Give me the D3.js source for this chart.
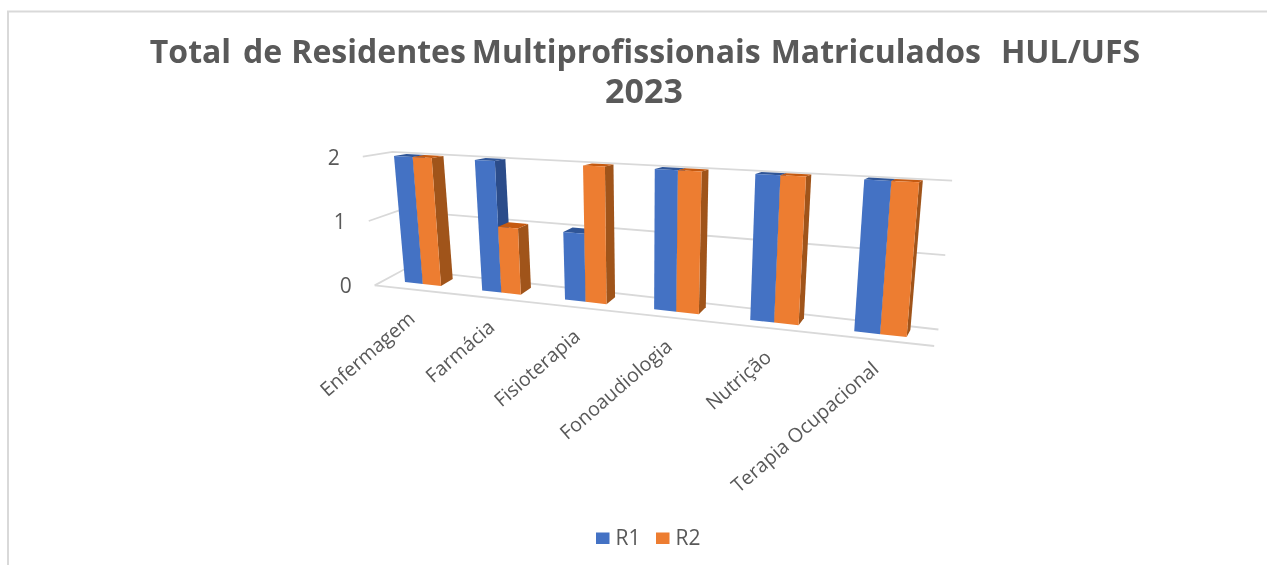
<!DOCTYPE html>
<html><head><meta charset="utf-8">
<script src="https://cdn.jsdelivr.net/npm/d3@7"></script>
<style>html,body{margin:0;padding:0;background:#fff}svg{display:block}</style>
</head><body><svg id="c" width="1267" height="565"></svg>
<script>
const titleWords = ["Total","de","Residentes","Multiprofissionais","Matriculados","HUL/UFS"];
const titleLine2 = "2023";
const categories = ["Enfermagem","Farmácia","Fisioterapia","Fonoaudiologia","Nutrição","Terapia Ocupacional"];
const seriesNames = ["R1","R2"];
const r1Values = [2,2,1,2,2,2];
const r2Values = [2,1,2,2,2,2];
const yTicks = [0,1,2];
const colors = {R1:{front:"#4472c4",top:"#2f5597",side:"#2b4c8a"},R2:{front:"#ed7d31",top:"#c55a11",side:"#a0541a"}};

const svg = d3.select("#c");
const root = svg.append("g").style("filter","blur(0.6px)");
const textColor = "#595959", gridColor="#d9d9d9";
const fontFam = "'Open Sans',sans-serif";

// frame: open on the right, the top rule runs off the picture
root.append("path").attr("d","M8,565V11.5H1267").attr("fill","none").attr("stroke","#d9d9d9").attr("stroke-width",2);

// scales: categories along the floor, values up the wall
const catU = d3.scalePoint().domain(categories).range([0,5]);
const groupW = 0.475;
const sub = d3.scaleBand().domain(seriesNames).range([0,groupW]);
const val = d3.scaleLinear().domain([0,2]).range([0,126]);
const wall = {uMin:-0.27,uMax:5.74,uMaxBack:5.71,dFront:-0.8,dBack:1.5};

// perspective projection of (u along axis, v value, d depth)
function project(u,v,d){
  const w = 1-0.034*u;
  const px = 405+60.8*u + v*(-5.5+1.93*u);
  const py = 282-1.4*u - val(v);
  return [px/w + d*(12.5-1.6*u), py/w + d*(-7+2.5*v)];
}
const poly = pts => "M"+pts.map(p=>p.join(",")).join("L")+"Z";
const line = (a,b) => "M"+a.join(",")+"L"+b.join(",");

// gridlines
yTicks.forEach(t=>{
  root.append("path").attr("d","M"+[project(wall.uMin,t,wall.dFront),project(wall.uMin,t,wall.dBack),project(wall.uMaxBack,t,wall.dBack)].map(p=>p.join(",")).join("L"))
    .attr("fill","none").attr("stroke",gridColor).attr("stroke-width",1.8);
});
root.append("path").attr("d",line(project(wall.uMin,0,wall.dFront),project(wall.uMax,0,wall.dFront)))
  .attr("fill","none").attr("stroke",gridColor).attr("stroke-width",1.8);

// bars
categories.forEach((c,i)=>{
  seriesNames.forEach((s,k)=>{
    const v = (k===0?r1Values:r2Values)[i];
    const u0 = catU(c)+sub(s), u1 = u0+sub.bandwidth();
    const col = colors[s];
    root.append("path").attr("fill",col.side).attr("d",poly([project(u1,0,0),project(u1,0,1),project(u1,v,1),project(u1,v,0)]));
    root.append("path").attr("fill",col.top).attr("d",poly([project(u0,v,0),project(u0,v,1),project(u1,v,1),project(u1,v,0)]));
    root.append("path").attr("fill",col.front).attr("d",poly([project(u0,0,0),project(u1,0,0),project(u1,v,0),project(u0,v,0)]));
  });
});

// value axis labels
yTicks.forEach(t=>{
  const p = project(wall.uMin,t,wall.dFront);
  root.append("text").attr("x",p[0]-23).attr("y",p[1]+8).attr("text-anchor","end")
    .attr("font-family",fontFam).attr("font-size",21).attr("fill",textColor).text(t);
});

// category labels
categories.forEach(c=>{
  const p = project(catU(c)+groupW/2,0,wall.dFront);
  root.append("text").attr("transform",`translate(${p[0]+3},${p[1]+31}) rotate(-41)`).attr("text-anchor","end")
    .attr("font-family",fontFam).attr("font-size",19.6).attr("fill",textColor).text(c);
});

// title
const wordGaps = [0,12,9,6,10,20];
const t1 = root.append("text").attr("x",645).attr("y",63).attr("text-anchor","middle")
  .attr("font-family",fontFam).attr("font-weight",700).attr("font-size",32).attr("fill",textColor);
titleWords.forEach((w,i)=>t1.append("tspan").attr("dx",wordGaps[i]).text(w));
root.append("text").attr("x",644).attr("y",103).attr("text-anchor","middle")
  .attr("font-family",fontFam).attr("font-weight",700).attr("font-size",34).attr("fill",textColor).text(titleLine2);

// legend
const legendX = d3.scaleOrdinal().domain(seriesNames).range([596,656]);
seriesNames.forEach(s=>{
  root.append("rect").attr("x",legendX(s)).attr("y",532.5).attr("width",13.5).attr("height",11.5).attr("fill",colors[s].front);
  root.append("text").attr("x",legendX(s)+19.5).attr("y",545).attr("font-family",fontFam).attr("font-size",21).attr("fill",textColor).text(s);
});
</script></body></html>
